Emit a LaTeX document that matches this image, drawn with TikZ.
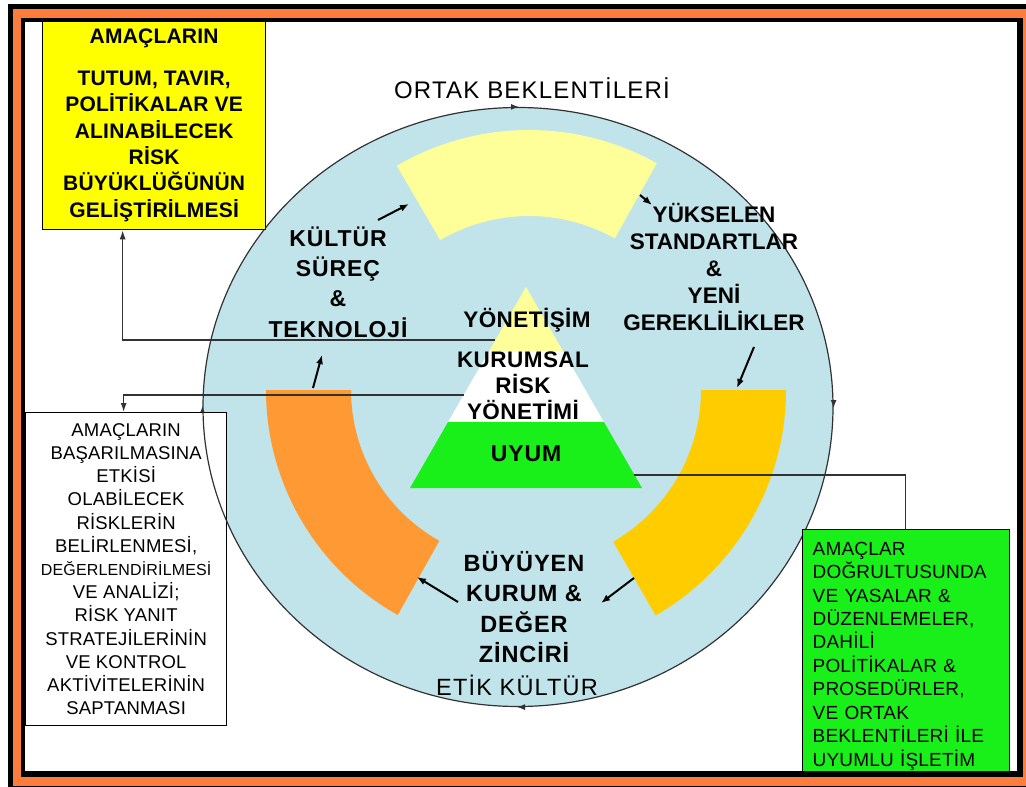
\documentclass[tikz,border=0pt]{standalone}
\usepackage{fontspec}
\setmainfont{Liberation Sans}
\usetikzlibrary{shapes.geometric,arrows.meta,calc}

\definecolor{framered}{RGB}{255,125,60}
\definecolor{ringblue}{RGB}{192,228,233}
\definecolor{paleyellow}{RGB}{255,255,153}
\definecolor{sectororange}{RGB}{255,153,51}
\definecolor{sectorgold}{RGB}{255,204,0}
\definecolor{boxyellow}{RGB}{255,255,0}
\definecolor{brightgreen}{RGB}{25,240,25}
\definecolor{linegray}{RGB}{50,50,50}

\begin{document}
\begin{tikzpicture}[x=1pt,y=-1pt,
  conn/.style={draw=linegray,line width=1.3pt},
  conntip/.style={conn,-{Latex[length=9pt,width=6pt]}},
  flowarrow/.style={draw=black,line width=2pt,-{Latex[length=9pt,width=7pt]}},
  ringtip/.style={draw=linegray,line width=1.2pt,-{Latex[length=8pt,width=6pt]}},
  boldlabel/.style={align=center,inner sep=0pt,
    font=\fontsize{23}{30.3}\selectfont\bfseries\addfontfeatures{LetterSpace=4}},
  plainlabel/.style={align=center,inner sep=0pt,
    font=\fontsize{24}{27}\selectfont\addfontfeatures{LetterSpace=5}},
  textbox/.style={draw=black,line width=1.3pt,anchor=north west,inner sep=0pt}
]
\useasboundingbox (0,0) rectangle (1026,787);

% double frame around the page
\fill[white] (0,0) rectangle (1026,787);
\fill[black] (8,4) rectangle (1026,787);
\fill[framered] (13,8.5) rectangle (1026,786);
\fill[black] (20.5,17.5) rectangle (1023,777);
\fill[white] (25,22) rectangle (1017,771);

% the cycle ring
\node[ellipse,draw=linegray,line width=1.2pt,fill=ringblue,
      minimum width=630pt,minimum height=599pt,inner sep=0pt] (ring) at (518,407) {};
\draw[ringtip] ([xshift=-7pt]ring.north) -- ([xshift=1pt]ring.north);
\draw[ringtip] ([yshift=7pt]ring.east) -- ([yshift=-1pt]ring.east);
\draw[ringtip] ([xshift=7pt]ring.south) -- ([xshift=-1pt]ring.south);
\draw[ringtip] ([yshift=-7pt]ring.west) -- ([yshift=1pt]ring.west);

% ring segments
\coordinate (scTop) at (529,392);
\coordinate (scLeft) at (524,390);
\coordinate (scRight) at (526,390);
\fill[paleyellow] ([shift={(60.8:262pt)}]scTop) arc[start angle=60.8,end angle=120.3,radius=262pt]
  -- ([shift={(120.3:176pt)}]scTop) arc[start angle=120.3,end angle=60.8,radius=176pt] -- cycle;
\fill[sectororange] ([shift={(180:258pt)}]scLeft) arc[start angle=180,end angle=240.7,radius=258pt]
  -- ([shift={(240.7:173pt)}]scLeft) arc[start angle=240.7,end angle=180,radius=173pt] -- cycle;
\fill[sectorgold] ([shift={(-60.1:260pt)}]scRight) arc[start angle=-60.1,end angle=0,radius=260pt]
  -- ([shift={(0:175pt)}]scRight) arc[start angle=0,end angle=-60.1,radius=175pt] -- cycle;

% pyramid
\coordinate (apex) at (526,287);
\coordinate (bl) at (410,488);
\coordinate (br) at (642,488);
\fill[paleyellow] (apex) -- ($(apex)!0.318!(bl)$) -- ($(apex)!0.318!(br)$) -- cycle;
\fill[white] ($(apex)!0.318!(bl)$) -- ($(apex)!0.671!(bl)$) -- ($(apex)!0.671!(br)$) -- ($(apex)!0.318!(br)$) -- cycle;
\node[boldlabel,font=\fontsize{22.5}{26}\selectfont\bfseries\addfontfeatures{LetterSpace=2}] (gov) at (527,320) {YÖNETİŞİM};
\node[boldlabel,font=\fontsize{22.5}{26}\selectfont\bfseries\addfontfeatures{LetterSpace=2}] (erm) at (523,386) {KURUMSAL\\RİSK\\YÖNETİMİ};
\fill[brightgreen] ($(apex)!0.671!(bl)$) -- (bl) -- (br) -- ($(apex)!0.671!(br)$) -- cycle;
\node[boldlabel] (comp) at (526,454) {UYUM};

% labels around the ring
\node[plainlabel] (expect) at (532,88) {ORTAK BEKLENTİLERİ};
\node[plainlabel,font=\fontsize{23.5}{27}\selectfont\addfontfeatures{LetterSpace=5}] (ethic) at (517,685) {ETİK KÜLTÜR};
\node[boldlabel] (culture) at (338,282) {KÜLTÜR\\SÜREÇ\\\&\\TEKNOLOJİ};
\node[boldlabel,font=\fontsize{22.5}{27.2}\selectfont\bfseries] (standards) at (714,267) {YÜKSELEN\\STANDARTLAR\\\&\\YENİ\\GEREKLİLİKLER};
\node[boldlabel,font=\fontsize{23.5}{30.3}\selectfont\bfseries\addfontfeatures{LetterSpace=4}] (growth) at (524,607) {BÜYÜYEN\\KURUM \&\\DEĞER\\ZİNCİRİ};

% flow arrows inside the ring
\coordinate (a1s) at (378,220); \coordinate (a1e) at (409,204);
\coordinate (a2s) at (640,195); \coordinate (a2e) at (652,205);
\coordinate (a3s) at (754,347); \coordinate (a3e) at (737,388);
\coordinate (a4s) at (634,578); \coordinate (a4e) at (601,603);
\coordinate (a5s) at (458,602); \coordinate (a5e) at (417,577);
\coordinate (a6s) at (313,388); \coordinate (a6e) at (322,355);
\draw[flowarrow] (a1s) -- (a1e);
\draw[flowarrow] (a2s) -- (a2e);
\draw[flowarrow] (a3s) -- (a3e);
\draw[flowarrow] (a4s) -- (a4e);
\draw[flowarrow] (a5s) -- (a5e);
\draw[flowarrow] (a6s) -- (a6e);

% side boxes
\node[textbox,fill=boxyellow,minimum width=223pt,minimum height=208pt,align=center,
      font=\fontsize{21}{26.3}\selectfont\bfseries\addfontfeatures{LetterSpace=1}] (ybox) at (42,21)
  {AMAÇLARIN\\[15.5pt]TUTUM, TAVIR,\\POLİTİKALAR VE\\ALINABİLECEK\\RİSK\\BÜYÜKLÜĞÜNÜN\\GELİŞTİRİLMESİ\rule[-5pt]{0pt}{5pt}};
\node[textbox,fill=white,minimum width=201pt,minimum height=313pt,align=center,
      font=\fontsize{18.5}{23.2}\selectfont\addfontfeatures{LetterSpace=1}] (lbox) at (25,412)
  {AMAÇLARIN\\BAŞARILMASINA\\ETKİSİ\\OLABİLECEK\\RİSKLERİN\\BELİRLENMESİ,\\{\fontsize{16}{23.2}\selectfont DEĞERLENDİRİLMESİ}\\VE ANALİZİ;\\RİSK YANIT\\STRATEJİLERİNİN\\VE KONTROL\\AKTİVİTELERİNİN\\SAPTANMASI};
\node[textbox,fill=brightgreen,minimum height=242pt,text width=187pt,inner xsep=10pt,align=left,
      font=\fontsize{19}{23.45}\selectfont\addfontfeatures{LetterSpace=1}] (gbox) at (802,529)
  {\rule{0pt}{24pt}AMAÇLAR\\DOĞRULTUSUNDA\\VE YASALAR \&\\DÜZENLEMELER,\\DAHİLİ\\POLİTİKALAR \&\\PROSEDÜRLER,\\VE ORTAK\\BEKLENTİLERİ İLE\\UYUMLU İŞLETİM};

% ring outline showing through the white box
\begin{scope}
  \clip (lbox.south west) rectangle (lbox.north east);
  \draw[linegray,line width=1.2pt] (ring.center) ellipse [x radius=315, y radius=299.5];
\end{scope}

% connectors from the pyramid to the side boxes
\coordinate (pl1) at ($(apex)!0.2637!(bl)$);
\coordinate (pl2) at ($(apex)!0.537!(bl)$);
\coordinate (pr1) at ($(apex)!0.935!(br)$);
\draw[conntip] (pl1) -| ([xshift=-31.5pt]ybox.south);
\draw[conntip] (pl2) -| ([xshift=-2.5pt]lbox.north);
\draw[conn] (pr1) -| ([xshift=-0.5pt]gbox.north);
\end{tikzpicture}
\end{document}
